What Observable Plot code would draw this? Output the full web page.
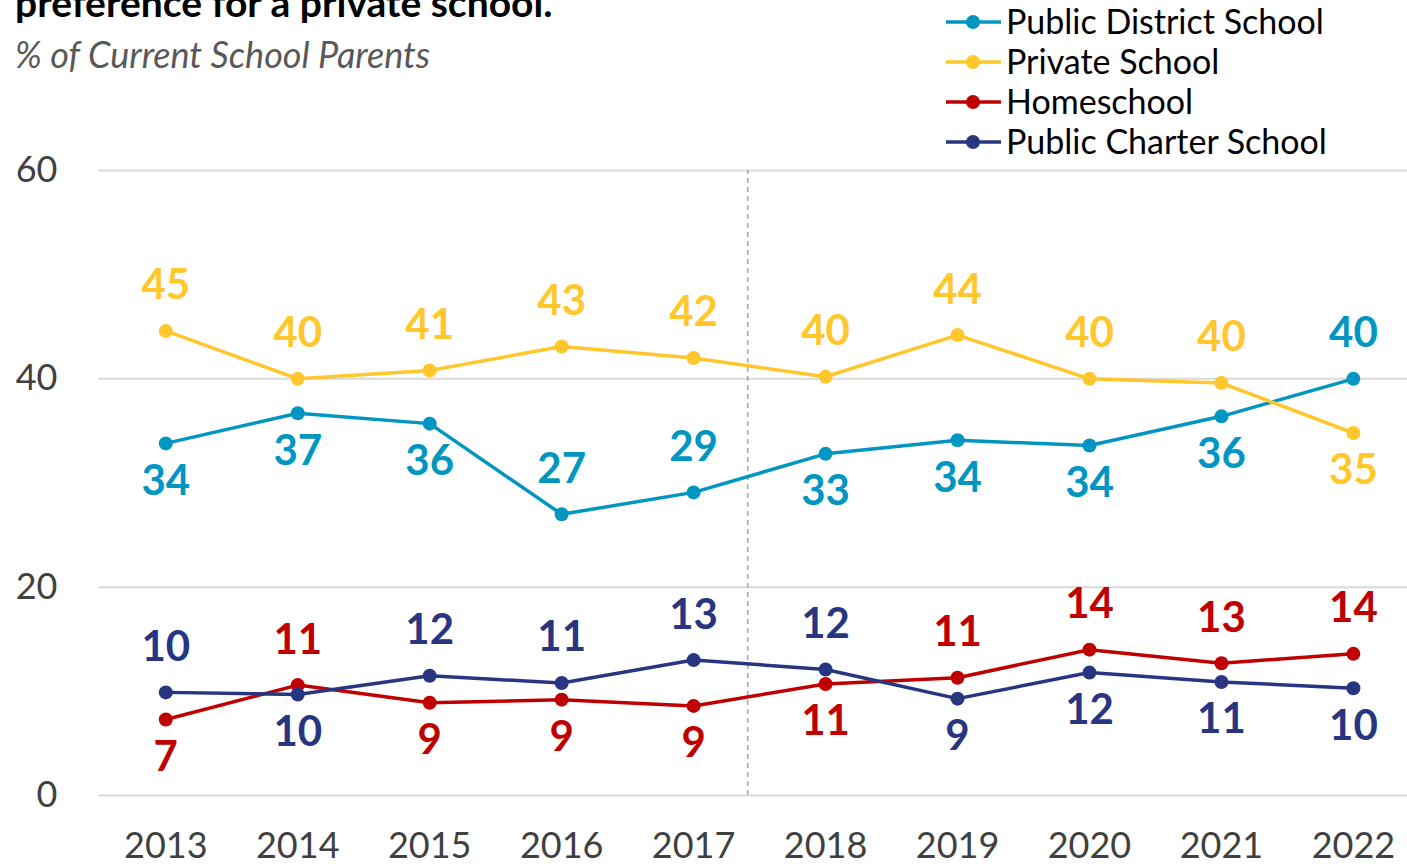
<!DOCTYPE html>
<html>
<head>
<meta charset="utf-8">
<script src="https://cdn.jsdelivr.net/npm/d3@7"></script>
<script src="https://cdn.jsdelivr.net/npm/@observablehq/plot@0.6"></script>
<style>
  body { margin: 0; background: #fff; font-family: Lato, "Open Sans", sans-serif; }
  #page { position: relative; width: 1407px; height: 867px; overflow: hidden; }
  #header { position: relative; height: 150px; }
  #title { position: absolute; left: 15px; top: -17px; font-size: 39px; font-weight: 700; line-height: 39px; color: #000; white-space: nowrap; }
  #subtitle { position: absolute; left: 15px; top: 36px; font-size: 36px; font-style: italic; line-height: 36px; color: #595959; white-space: nowrap; }
  #legend { position: absolute; left: 946px; top: 1px; z-index: 2; }
  .lrow { display: flex; align-items: center; height: 40px; }
  .lrow svg { flex: none; margin-right: 5px; }
  .lrow span { font-size: 34px; line-height: 40px; color: #000; white-space: nowrap; }
  #chart svg { display: block; }
</style>
</head>
<body>
<div id="page">
  <div id="header">
    <div id="title"></div>
    <div id="subtitle"></div>
    <div id="legend"></div>
  </div>
  <div id="chart"></div>
</div>
<script>
// ---- data ----
const titleText = "preference for a private school.";
const subtitleText = "% of Current School Parents";
const years = [2013, 2014, 2015, 2016, 2017, 2018, 2019, 2020, 2021, 2022];
const seriesNames = ["Public District School", "Private School", "Homeschool", "Public Charter School"];
const seriesColors = ["#0096C1", "#FFC72C", "#C00000", "#283581"];
const publicDistrict = [33.8, 36.7, 35.7, 27.0, 29.1, 32.8, 34.1, 33.6, 36.4, 40.0];
const privateSchool  = [44.6, 40.0, 40.8, 43.1, 42.0, 40.2, 44.2, 40.0, 39.6, 34.8];
const homeschool     = [7.3, 10.6, 8.9, 9.2, 8.6, 10.7, 11.3, 14.0, 12.7, 13.6];
const publicCharter  = [9.9, 9.7, 11.5, 10.8, 13.0, 12.1, 9.3, 11.8, 10.9, 10.3];
const publicDistrictLabels = [34, 37, 36, 27, 29, 33, 34, 34, 36, 40];
const privateSchoolLabels  = [45, 40, 41, 43, 42, 40, 44, 40, 40, 35];
const homeschoolLabels     = [7, 11, 9, 9, 9, 11, 11, 14, 13, 14];
const publicCharterLabels  = [10, 10, 12, 11, 13, 12, 9, 12, 11, 10];
// which side of its point each data label sits on
const publicDistrictLabelSide = ["below", "below", "below", "above", "above", "below", "below", "below", "below", "above"];
const privateSchoolLabelSide  = ["above", "above", "above", "above", "above", "above", "above", "above", "above", "below"];
const homeschoolLabelSide     = ["below", "above", "below", "below", "below", "below", "above", "above", "above", "above"];
const publicCharterLabelSide  = ["above", "below", "above", "above", "above", "above", "below", "below", "below", "below"];
const yTicks = [0, 20, 40, 60];
const methodBreak = [2017.41];

// ---- table ----
const seriesValues = [publicDistrict, privateSchool, homeschool, publicCharter];
const seriesLabels = [publicDistrictLabels, privateSchoolLabels, homeschoolLabels, publicCharterLabels];
const seriesSides = [publicDistrictLabelSide, privateSchoolLabelSide, homeschoolLabelSide, publicCharterLabelSide];
const data = seriesNames.flatMap((name, s) =>
  years.map((year, i) => ({
    series: name,
    year,
    value: seriesValues[s][i],
    label: String(seriesLabels[s][i]),
    side: seriesSides[s][i]
  }))
);

// ---- header ----
document.getElementById("title").textContent = titleText;
document.getElementById("subtitle").textContent = subtitleText;
const legend = document.getElementById("legend");
seriesNames.forEach((name, s) => {
  const row = document.createElement("div");
  row.className = "lrow";
  row.innerHTML = `<svg width="55" height="40"><line x1="0" x2="55" y1="21" y2="21" stroke="${seriesColors[s]}" stroke-width="3.5"/><circle cx="27" cy="21" r="7" fill="${seriesColors[s]}"/></svg><span>${name}</span>`;
  legend.appendChild(row);
});

// ---- chart ----
const labelStyle = { x: "year", y: "value", text: "label", fill: "series", fontSize: 42, fontWeight: 700, lineAnchor: "middle" };
const chart = Plot.plot({
  width: 1407,
  height: 717,
  marginTop: 20,
  marginBottom: 72,
  marginLeft: 98,
  marginRight: 0,
  style: { fontFamily: "Lato, 'Open Sans', sans-serif", fontSize: "36px", color: "#404040", background: "white", overflow: "visible" },
  x: { type: "linear", domain: [2012.49, 2022.41], label: null },
  y: { domain: [0, 60], label: null },
  color: { domain: seriesNames, range: seriesColors },
  marks: [
    Plot.ruleY(yTicks, { stroke: "#D9D9D9", strokeWidth: 2 }),
    Plot.ruleX(methodBreak, { y1: 0, y2: 60, stroke: "#A6A6A6", strokeWidth: 1.5, strokeDasharray: "5,4" }),
    Plot.axisX(years, { tickSize: 0, tickPadding: 37, tickFormat: d => String(d), fill: "#404040", fontSize: 36 }),
    Plot.axisY(yTicks, { tickSize: 0, tickPadding: 41, fill: "#404040", fontSize: 36 }),
    Plot.line(data, { x: "year", y: "value", z: "series", stroke: "series", strokeWidth: 3.5 }),
    Plot.dot(data, { x: "year", y: "value", fill: "series", r: 7 }),
    Plot.text(data.filter(d => d.side === "above"), { ...labelStyle, dy: -45 }),
    Plot.text(data.filter(d => d.side === "below"), { ...labelStyle, dy: 38 })
  ]
});
document.getElementById("chart").appendChild(chart);
</script>
</body>
</html>
